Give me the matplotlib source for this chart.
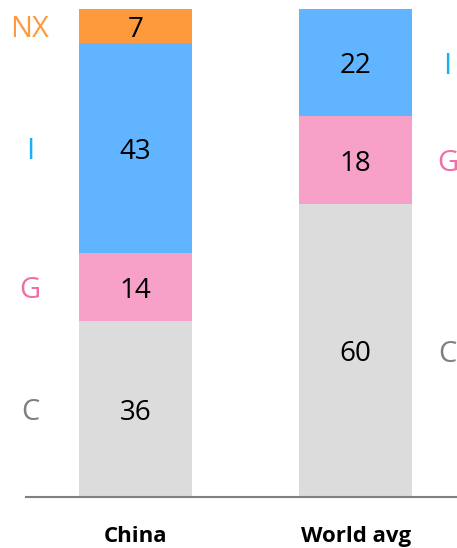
import matplotlib.pyplot as plt

categories = ['China', 'World avg']
segments = ['C', 'G', 'I', 'NX']
values = {
    'C': [36, 60],
    'G': [14, 18],
    'I': [43, 22],
    'NX': [7, 0],
}
bar_colors = {'C': '#dcdcdc', 'G': '#f7a1c9', 'I': '#61b4ff', 'NX': '#ff9a3c'}
text_colors = {'C': '#808080', 'G': '#f06ea9', 'I': '#1ab0ee', 'NX': '#ff9a3c'}

plt.rcParams['font.family'] = ['Open Sans', 'DejaVu Sans']

W, H = 457, 548
fig = plt.figure(figsize=(W / 100, H / 100), dpi=100)
ax = fig.add_axes([26 / W, (H - 497) / H, 1 - 26 / W, (497 - 9) / H])

x = list(range(len(categories)))
bottoms = [0] * len(categories)
for seg in segments:
    vals = values[seg]
    ax.bar(x, vals, width=0.514, bottom=bottoms, color=bar_colors[seg], linewidth=0)
    for i, v in enumerate(vals):
        if v > 0:
            ax.text(x[i], bottoms[i] + v / 2, str(v), ha='center', va='center_baseline',
                    fontsize=20, color='black')
    bottoms = [b + v for b, v in zip(bottoms, vals)]

# side labels: left of China, right of World avg
offsets = [-0.48, 0.418]
for i in range(len(categories)):
    b = 0
    for seg in segments:
        v = values[seg][i]
        if v > 0:
            ax.text(x[i] + offsets[i], b + v / 2, seg, ha='center', va='center_baseline',
                    fontsize=21, color=text_colors[seg])
        b += v

ax.set_xlim(-0.498, 1.461)
ax.set_ylim(0, 100)
ax.set_yticks([])
ax.set_xticks(x)
ax.set_xticklabels(categories, fontsize=16, fontweight='bold')
ax.tick_params(axis='x', length=0, pad=21)
for s in ['top', 'left', 'right']:
    ax.spines[s].set_visible(False)
ax.spines['bottom'].set_color('#808080')
ax.spines['bottom'].set_linewidth(1.5)

fig.savefig('out.png', dpi=100)
